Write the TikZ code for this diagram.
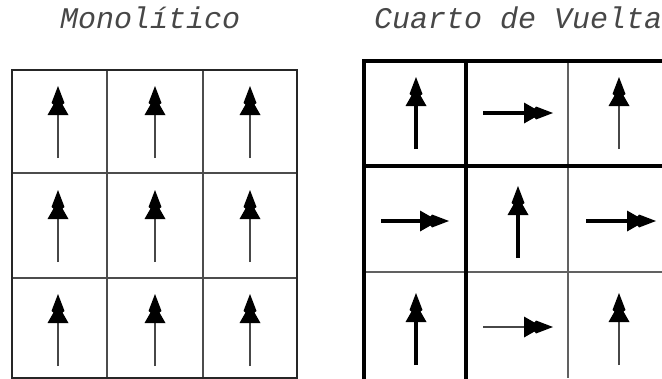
\documentclass[tikz,border=0pt]{standalone}
\usepackage{fontspec}
\newfontfamily\titlefont{Liberation Mono}
\tikzset{
  titletext/.style={anchor=base west,inner sep=0pt,font=\titlefont\itshape\fontsize{30}{32}\selectfont,text=black!72},
  gridthin/.style={line width=2.4pt,draw=black!70},
  gridouter/.style={line width=2.8pt,draw=black!85},
  gridbold/.style={line width=3.6pt,draw=black},
  gridlight/.style={line width=2.2pt,draw=black!62},
  shaftthin/.style={line width=2pt,draw=black!72},
  shaftbold/.style={line width=3.6pt,draw=black},
}
% #1 name, #2 x, #3 y of tail, #4 angle, #5 length, #6 shaft style
\newcommand\drawvec[6]{%
  \coordinate (#1) at (#2,#3);
  \begin{scope}[shift={(#1)},rotate=#4]
    \draw[#6] (0,0) -- (#5-24,0);
    \fill[black] (#5,0) -- (#5-17,6.5) -- (#5-18.5,4.5) -- (#5-29,10.5)
       -- (#5-29,-10.5) -- (#5-18.5,-4.5) -- (#5-17,-6.5) -- cycle;
  \end{scope}}
\begin{document}
\begin{tikzpicture}[x=1pt,y=-1pt]
\clip (0,0) rectangle (662,378);
\fill[white] (0,0) rectangle (662,378);

\node[titletext] (t1) at (60,28) {Monolítico};
\node[titletext] (t2) at (374,28) {Cuarto de Vuelta};

% left grid
\draw[gridthin] (107,70) -- (107,378) (203,70) -- (203,378)
  (12,173) -- (297,173) (12,278) -- (297,278);
\draw[gridouter] (12,378) -- (12,70) -- (297,70) -- (297,378) -- cycle;

\foreach \x [count=\i] in {58,155,250}{
  \foreach \y [count=\j] in {158,262,366}{
    \drawvec{L\i\j}{\x}{\y}{90}{72}{shaftthin}
  }
}

% right grid
\draw[gridlight] (568,61) -- (568,378);
\draw[gridlight] (364,272) -- (670,272);
\draw[gridbold] (466,61) -- (466,380) (364,166) -- (670,166);
\draw[gridbold] (364,380) -- (364,61) -- (670,61);

\drawvec{R11}{416}{149}{90}{72}{shaftbold}
\drawvec{R12}{483}{113}{0}{70}{shaftbold}
\drawvec{R13}{619}{149}{90}{72}{shaftthin}
\drawvec{R21}{381}{221}{0}{68}{shaftbold}
\drawvec{R22}{518}{258}{90}{72}{shaftbold}
\drawvec{R23}{586}{221}{0}{70}{shaftbold}
\drawvec{R31}{416}{365}{90}{72}{shaftbold}
\drawvec{R32}{483}{327}{0}{70}{shaftthin}
\drawvec{R33}{619}{365}{90}{72}{shaftthin}
\end{tikzpicture}
\end{document}
